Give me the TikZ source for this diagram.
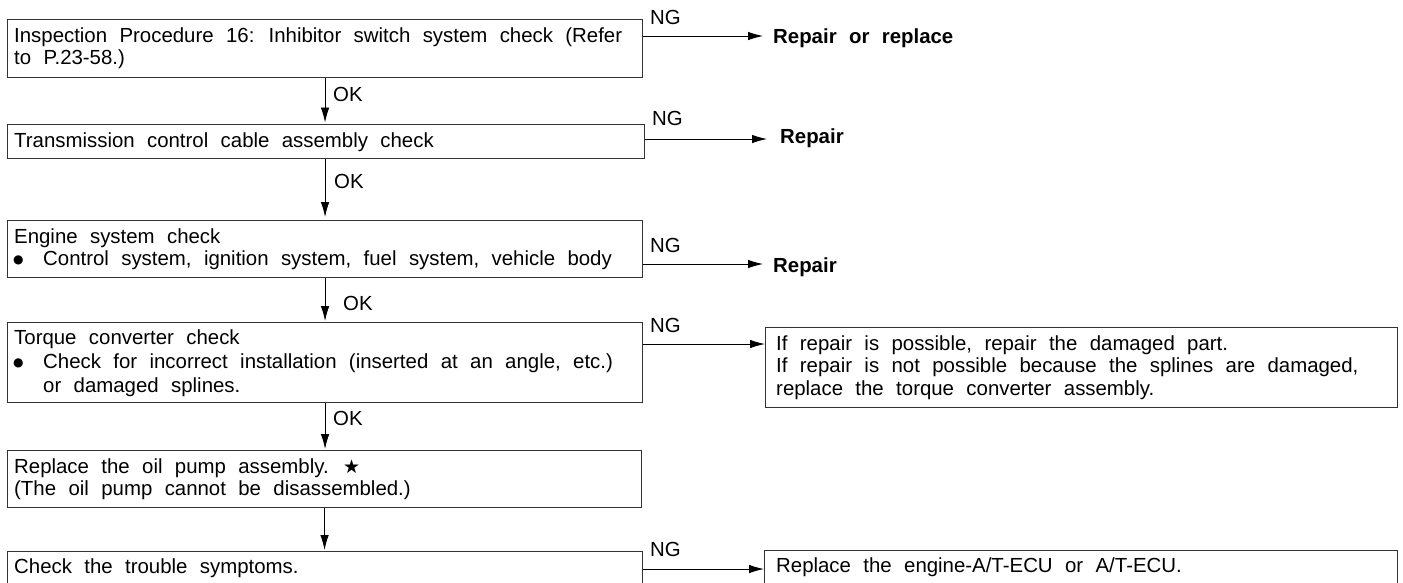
\documentclass[tikz,border=0pt]{standalone}
\usepackage{fontspec}
\setmainfont{Liberation Sans}
\newfontfamily\symfont{DejaVu Sans}
\usetikzlibrary{arrows.meta}
\newcommand\fsz{\fontsize{20.4}{22}\selectfont\spaceskip=12.4pt plus 1pt minus 1pt\relax}
\begin{document}
\begin{tikzpicture}[x=1pt,y=-1pt,
  box/.style={draw=black!80,line width=1.1pt,inner sep=0pt,anchor=north west},
  txt/.style={anchor=base west,inner sep=0pt,font=\fsz},
  btxt/.style={anchor=base west,inner sep=0pt,font=\fsz\bfseries},
  lbl/.style={anchor=base west,inner sep=0pt,font=\fsz},
  arr/.style={draw=black,line width=0.9pt,-{Latex[length=15pt,width=8.5pt]}},
  bul/.style={anchor=base west,inner sep=0pt,font=\symfont\fontsize{12}{12}\selectfont}]
\useasboundingbox (0,0) rectangle (1403,582);
\clip (0,0) rectangle (1403,582);
% boxes
\node[box,minimum width=635pt,minimum height=58pt] (b1) at (7,19) {};
\node[box,minimum width=637pt,minimum height=34pt] (b2) at (7,124) {};
\node[box,minimum width=635pt,minimum height=57pt] (b3) at (7,220) {};
\node[box,minimum width=635pt,minimum height=80pt] (b4) at (7,322) {};
\node[box,minimum width=634pt,minimum height=57pt] (b5) at (7,450) {};
\node[box,minimum width=635pt,minimum height=49pt] (b6) at (7,551) {};
\node[box,minimum width=632pt,minimum height=80pt] (r4) at (765,327) {};
\node[box,minimum width=633pt,minimum height=50pt] (r6) at (764,550) {};
% box texts
\node[txt] (t1a) at (14,42) {Inspection Procedure 16: Inhibitor switch system check (Refer};
\node[txt] (t1b) at (14,64) {to P.23-58.)};
\node[txt] (t2) at (14,147) {Transmission control cable assembly check};
\node[txt] (t3a) at (14,243) {Engine system check};
\node[bul] (t3b) at (13,263) {●};
\node[txt] (t3c) at (43,265) {Control system, ignition system, fuel system, vehicle body};
\node[txt] (t4a) at (14,344) {Torque converter check};
\node[bul] (t4b) at (13,366) {●};
\node[txt] (t4c) at (43,368) {Check for incorrect installation (inserted at an angle, etc.)};
\node[txt] (t4d) at (43,392) {or damaged splines.};
\node[txt] (t5a) at (14,473) {Replace the oil pump assembly. {\symfont\fontsize{19}{19}\selectfont ★}};
\node[txt] (t5b) at (14,495) {(The oil pump cannot be disassembled.)};
\node[txt] (t6) at (14,573) {Check the trouble symptoms.};
\node[txt] (u4a) at (776,350) {If repair is possible, repair the damaged part.};
\node[txt] (u4b) at (776,372) {If repair is not possible because the splines are damaged,};
\node[txt] (u4c) at (776,395) {replace the torque converter assembly.};
\node[txt] (u6) at (776,572) {Replace the engine-A/T-ECU or A/T-ECU.};
% result texts
\node[btxt] (rp1) at (773,43) {Repair or replace};
\node[btxt] (rp2) at (780,143) {Repair};
\node[btxt] (rp3) at (773,272) {Repair};
\coordinate (e1) at (763,36);
\coordinate (e2) at (767,139);
\coordinate (e3) at (763,264);
% NG / OK labels
\node[lbl] (ng1) at (650,24) {NG};
\node[lbl] (ng2) at (652,125) {NG};
\node[lbl] (ng3) at (650,252) {NG};
\node[lbl] (ng4) at (650,332) {NG};
\node[lbl] (ng6) at (650,556) {NG};
\node[lbl] (ok1) at (333,101) {OK};
\node[lbl] (ok2) at (334,188) {OK};
\node[lbl] (ok3) at (343,310) {OK};
\node[lbl] (ok4) at (333,425) {OK};
% vertical arrows
\draw[arr,shorten >=1.5pt] (b1.south) -- (b2.north -| b1.south);
\draw[arr,shorten >=3pt] (b2.south -| b1.south) -- (b3.north);
\draw[arr,shorten >=1pt] (b3.south) -- (b4.north);
\draw[arr,shorten >=1pt] (b4.south) -- (b5.north -| b4.south);
\draw[arr,shorten >=1pt] (b5.south) -- (b6.north -| b5.south);
% NG arrows
\draw[arr] (b1.east |- e1) -- (e1);
\draw[arr] (b2.east |- e2) -- (e2);
\draw[arr] (b3.east |- e3) -- (e3);
\draw[arr] (b4.east |- 0,344) -- (r4.west |- 0,344);
\draw[arr] (b6.east |- 0,569) -- (r6.west |- 0,569);
\end{tikzpicture}
\end{document}
